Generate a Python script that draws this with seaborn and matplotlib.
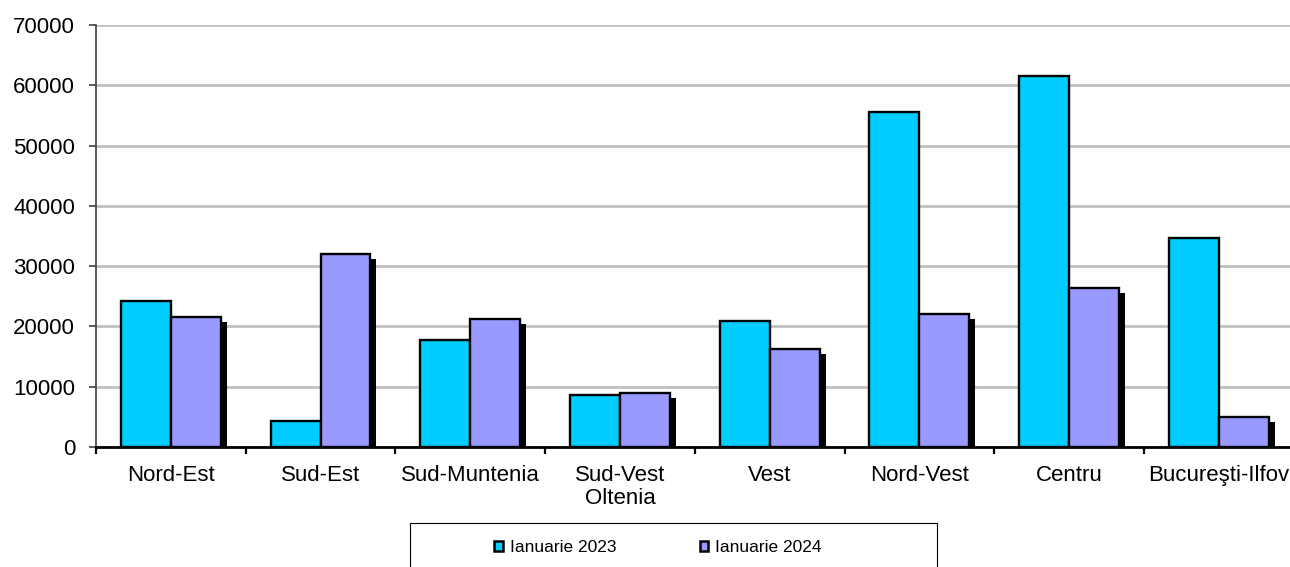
import numpy as np
import pandas as pd
import matplotlib
matplotlib.use("Agg")
import matplotlib.pyplot as plt
import matplotlib.patheffects as pe
from matplotlib.patches import Patch, Rectangle
import seaborn as sns

regions = ["Nord-Est", "Sud-Est", "Sud-Muntenia", "Sud-Vest\nOltenia", "Vest",
           "Nord-Vest", "Centru", "Bucureşti-Ilfov"]
series = ["Ianuarie 2023", "Ianuarie 2024"]
vals_2023 = [24200, 4300, 17750, 8570, 20900, 55500, 61600, 34700]
vals_2024 = [21600, 31950, 21200, 9000, 16300, 22100, 26300, 5000]
colors = ["#00CCFF", "#9999FF"]

df = pd.DataFrame({
    "region": regions * 2,
    "series": [series[0]] * len(regions) + [series[1]] * len(regions),
    "value": vals_2023 + vals_2024,
})

sns.set_style("white")
plt.rcParams["font.family"] = ["Liberation Sans", "DejaVu Sans"]
plt.rcParams["text.color"] = "black"
plt.rcParams["xtick.labelcolor"] = "black"
plt.rcParams["ytick.labelcolor"] = "black"

fig = plt.figure(figsize=(12.9, 5.67), dpi=100)
ax = fig.add_axes([96 / 1290, 1 - 447 / 567, 1197.6 / 1290, 422 / 567])

sns.barplot(data=df, x="region", y="value", hue="series", palette=colors,
            width=2 / 3, edgecolor="black", linewidth=1.7, saturation=1,
            legend=False, ax=ax, zorder=3)

# drop shadow only on the second series
n = len(regions)
for p in ax.patches[n:2 * n]:
    p.set_path_effects([pe.SimplePatchShadow(offset=(4.3, -3.6), shadow_rgbFace="black", alpha=1.0),
                        pe.Normal()])

ax.set_ylim(0, 70000)
ax.set_yticks(np.arange(0, 70001, 10000))
ax.set_xlim(-0.5, n - 0.5)
ax.set_xlabel("")
ax.set_ylabel("")
ax.yaxis.grid(True, color="#c0c0c0", linewidth=2)
ax.xaxis.grid(False)
ax.set_axisbelow(True)

for s in ["top", "right"]:
    ax.spines[s].set_visible(False)
ax.spines["left"].set_color("#404040")
ax.spines["left"].set_linewidth(1.2)
ax.spines["bottom"].set_color("black")
ax.spines["bottom"].set_linewidth(2)
ax.spines["bottom"].set_zorder(4)

ax.tick_params(axis="y", left=True, length=5, width=1.2, color="#404040", pad=10,
               labelsize=16, labelcolor="black")
ax.set_xticks(np.arange(-0.5, n, 1), minor=True)
ax.tick_params(axis="x", which="minor", bottom=True, length=5, width=1.6, color="black")
ax.tick_params(axis="x", which="major", length=0, pad=13, labelsize=16, labelcolor="black")
for t in ax.get_xticklabels():
    t.set_linespacing(1.1)

handles = [Patch(facecolor=c, edgecolor="black", linewidth=1.8) for c in colors]
fig.legend(handles, series, loc="center", bbox_to_anchor=(658 / 1290, 1 - 548 / 567),
           ncol=2, frameon=False, fontsize=12.5, columnspacing=4.8,
           handlelength=0.5, handleheight=0.5, handletextpad=0.4, labelcolor="black")
fig.add_artist(Rectangle((410 / 1290, -0.05), 527 / 1290, 44 / 567 + 0.05,
                         transform=fig.transFigure, fill=False, edgecolor="black", linewidth=0.8))

fig.savefig("out.png", dpi=100)
